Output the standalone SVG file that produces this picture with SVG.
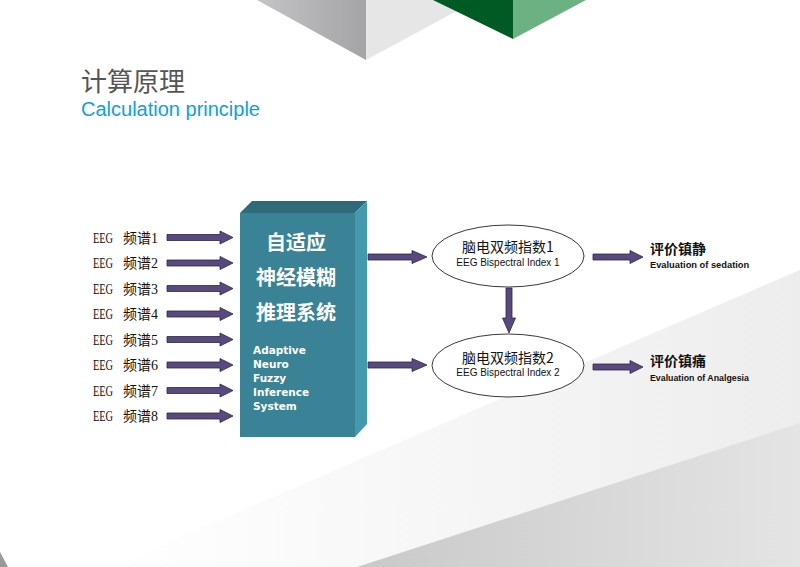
<svg xmlns="http://www.w3.org/2000/svg" width="800" height="567" viewBox="0 0 800 567">
<style>
.arr{fill:#594a7e;stroke:#2e2446;stroke-width:0.8}
.eeg{font-family:"Liberation Serif","Noto Sans CJK SC",serif;font-size:14px;fill:#111}
.cjk{font-family:"Noto Sans CJK SC",sans-serif;fill:#111}
.box-cn{font-family:"Noto Sans CJK SC",sans-serif;font-size:20px;font-weight:bold;fill:#fff;text-anchor:middle}
.box-en{font-family:"DejaVu Sans",sans-serif;font-size:10.5px;font-weight:bold;fill:#fff}
.en{font-family:"Liberation Sans",sans-serif;fill:#111}
.ell{fill:#fff;stroke:#222;stroke-width:0.9}
</style>
<defs>
<linearGradient id="g1" x1="0" y1="0" x2="1" y2="0"><stop offset="0" stop-color="#ffffff"/><stop offset="1" stop-color="#ededed"/></linearGradient>
<linearGradient id="g2" x1="0" y1="0" x2="1" y2="0"><stop offset="0" stop-color="#c9c9c9"/><stop offset="1" stop-color="#e4e4e4"/></linearGradient>
<linearGradient id="g3" x1="0" y1="0" x2="1" y2="0"><stop offset="0" stop-color="#c4c4c6"/><stop offset="1" stop-color="#a4a4a6"/></linearGradient>
</defs>
<rect width="800" height="567" fill="#fff"/>
<g id="background">
<polygon points="257,0 366,0 366,60" fill="url(#g3)"/>
<polygon points="366,0 477,0 366,60" fill="#e6e6e6"/>
<polygon points="433,0 513,0 513,39" fill="#005a23"/>
<polygon points="513,0 586,0 513,39" fill="#6bb182"/>
<polygon points="110,567 800,270 800,567" fill="url(#g1)"/>
<polygon points="357,567 800,423 800,567" fill="url(#g2)"/>
<polygon points="0,552 8,567 0,567" fill="#9a9a9a"/>
</g>
<g id="title">
<text x="81" y="91" font-family="Noto Sans CJK SC,sans-serif" font-size="26" fill="#555">计算原理</text>
<text x="81" y="116" font-family="Liberation Sans,sans-serif" font-size="20" fill="#0d9fe0">Calculation principle</text>
</g>
<g id="inputs">
<text class="eeg" x="93" y="242.5"><tspan textLength="20" lengthAdjust="spacingAndGlyphs">EEG</tspan> <tspan x="123">频谱1</tspan></text>
<text class="eeg" x="93" y="268"><tspan textLength="20" lengthAdjust="spacingAndGlyphs">EEG</tspan> <tspan x="123">频谱2</tspan></text>
<text class="eeg" x="93" y="293.5"><tspan textLength="20" lengthAdjust="spacingAndGlyphs">EEG</tspan> <tspan x="123">频谱3</tspan></text>
<text class="eeg" x="93" y="319"><tspan textLength="20" lengthAdjust="spacingAndGlyphs">EEG</tspan> <tspan x="123">频谱4</tspan></text>
<text class="eeg" x="93" y="344.5"><tspan textLength="20" lengthAdjust="spacingAndGlyphs">EEG</tspan> <tspan x="123">频谱5</tspan></text>
<text class="eeg" x="93" y="370"><tspan textLength="20" lengthAdjust="spacingAndGlyphs">EEG</tspan> <tspan x="123">频谱6</tspan></text>
<text class="eeg" x="93" y="395.5"><tspan textLength="20" lengthAdjust="spacingAndGlyphs">EEG</tspan> <tspan x="123">频谱7</tspan></text>
<text class="eeg" x="93" y="421"><tspan textLength="20" lengthAdjust="spacingAndGlyphs">EEG</tspan> <tspan x="123">频谱8</tspan></text>
</g>
<g id="anfis">
<polygon points="240,213 252,201 367,201 355,213" fill="#2e6a7a"/>
<polygon points="355,213 367,201 367,424 355,437" fill="#4599ae"/>
<rect x="240" y="213" width="115" height="224" fill="#3a8296"/>
<text class="box-cn" x="296" y="250">自适应</text>
<text class="box-cn" x="296" y="285">神经模糊</text>
<text class="box-cn" x="296" y="320">推理系统</text>
<text class="box-en" x="253" y="354">Adaptive</text>
<text class="box-en" x="253" y="368">Neuro</text>
<text class="box-en" x="253" y="382">Fuzzy</text>
<text class="box-en" x="253" y="396">Inference</text>
<text class="box-en" x="253" y="410">System</text>
</g>
<g id="bis1">
<ellipse class="ell" cx="508" cy="256" rx="76" ry="31"/>
<text class="cjk" x="508" y="252" font-size="14" text-anchor="middle">脑电双频指数1</text>
<text class="en" x="508" y="266" font-size="10" text-anchor="middle">EEG Bispectral Index 1</text>
</g>
<g id="bis2">
<ellipse class="ell" cx="508" cy="365.5" rx="76" ry="31.5"/>
<text class="cjk" x="508" y="363" font-size="14" text-anchor="middle">脑电双频指数2</text>
<text class="en" x="508" y="376" font-size="10" text-anchor="middle">EEG Bispectral Index 2</text>
</g>
<g id="sedation">
<text class="cjk" x="650" y="254" font-size="14" font-weight="bold">评价镇静</text>
<text class="en" x="650" y="268" font-size="9.3" font-weight="bold" fill="#222">Evaluation of sedation</text>
</g>
<g id="analgesia">
<text class="cjk" x="650" y="366" font-size="14" font-weight="bold">评价镇痛</text>
<text class="en" x="650" y="381" font-size="8.8" font-weight="bold" fill="#222">Evaluation of Analgesia</text>
</g>
<g id="connectors">
<path class="arr" d="M167,234.5H220V231L233,237.5L220,244V240.5H167Z"/>
<path class="arr" d="M167,260H220V256.5L233,263L220,269.5V266H167Z"/>
<path class="arr" d="M167,285.5H220V282L233,288.5L220,295V291.5H167Z"/>
<path class="arr" d="M167,311H220V307.5L233,314L220,320.5V317H167Z"/>
<path class="arr" d="M167,336.5H220V333L233,339.5L220,346V342.5H167Z"/>
<path class="arr" d="M167,362H220V358.5L233,365L220,371.5V368H167Z"/>
<path class="arr" d="M167,387.5H220V384L233,390.5L220,397V393.5H167Z"/>
<path class="arr" d="M167,413H220V409.5L233,416L220,422.5V419H167Z"/>
<path class="arr" d="M368,254H412V250.5L427,257L412,263.5V260H368Z"/>
<path class="arr" d="M368,362H412V358.5L427,365L412,371.5V368H368Z"/>
<path class="arr" d="M506,288V318H502.5L509,333L515.5,318H512V288Z"/>
<path class="arr" d="M593,254H630V250.5L643,257L630,263.5V260H593Z"/>
<path class="arr" d="M593,364H630V360.5L643,367L630,373.5V370H593Z"/>
</g>
</svg>
